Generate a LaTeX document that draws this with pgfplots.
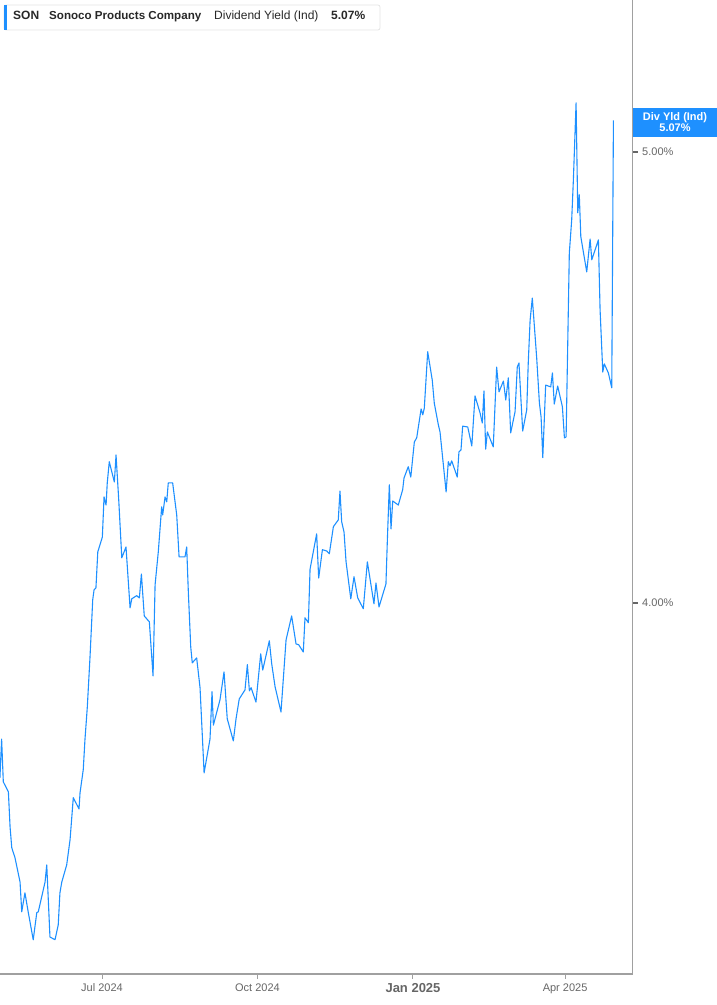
\documentclass[border=0pt]{standalone}
\usepackage{fontspec}
\setmainfont{Liberation Sans}
\usepackage{pgfplots}
\pgfplotsset{compat=1.18}
\usepackage{pgfplotstable}

\definecolor{lineblue}{RGB}{30,144,255}
\definecolor{axisgray}{RGB}{160,160,160}
\definecolor{labelgray}{RGB}{102,102,102}
\definecolor{headtext}{RGB}{40,40,40}

% day = days since 1 Jul 2024, yield in percent
\pgfplotstableread{
day yield
-60.4 3.612
-59.4 3.698
-58.4 3.603
-55.4 3.581
-54.4 3.503
-53.4 3.457
-51.5 3.435
-48.5 3.381
-47.5 3.315
-45.6 3.357
-43.6 3.313
-40.7 3.253
-38.6 3.313
-37.7 3.315
-33.7 3.381
-32.7 3.419
-30.8 3.259
-27.8 3.253
-25.9 3.286
-24.9 3.357
-23.8 3.381
-20.9 3.419
-18.9 3.475
-17.0 3.568
-13.6 3.543
-13.0 3.579
-11.1 3.630
-10.1 3.696
-8.7 3.769
-7.1 3.880
-5.5 4.007
-4.7 4.029
-3.6 4.033
-2.5 4.113
0.2 4.146
1.2 4.235
2.4 4.217
3.1 4.266
4.3 4.313
7.3 4.268
8.3 4.328
9.9 4.228
11.7 4.100
14.2 4.124
16.6 3.989
17.6 4.009
20.5 4.016
22.1 4.011
23.3 4.064
25.0 3.971
28.0 3.958
30.2 3.838
31.4 4.040
33.3 4.113
35.3 4.213
35.9 4.195
37.3 4.235
38.3 4.224
39.2 4.266
41.8 4.266
44.2 4.195
45.6 4.102
49.1 4.102
50.1 4.124
51.1 4.022
52.5 3.902
53.4 3.867
56.0 3.878
58.0 3.812
60.4 3.623
63.9 3.698
65.1 3.803
65.9 3.729
69.8 3.785
72.2 3.847
74.1 3.743
77.7 3.694
79.3 3.743
81.2 3.787
84.6 3.807
86.0 3.863
87.2 3.805
88.2 3.812
91.1 3.780
93.9 3.887
95.1 3.851
99.0 3.916
100.4 3.865
102.4 3.814
105.9 3.758
108.9 3.918
112.2 3.971
114.8 3.909
116.4 3.907
119.1 3.891
120.1 3.967
122.1 3.956
123.1 4.075
127.0 4.153
128.2 4.055
130.4 4.118
133.0 4.115
134.5 4.109
136.9 4.169
139.8 4.184
140.8 4.248
141.8 4.180
143.2 4.157
144.4 4.091
147.2 4.009
149.1 4.058
151.3 4.011
154.6 3.987
157.0 4.091
160.9 3.998
162.1 4.044
163.9 3.991
168.0 4.042
168.8 4.135
170.0 4.262
171.0 4.164
172.0 4.226
175.3 4.217
177.9 4.251
178.7 4.277
181.2 4.302
182.7 4.279
184.8 4.357
186.2 4.366
188.8 4.430
189.8 4.417
190.7 4.432
192.7 4.557
195.4 4.494
196.6 4.443
199.0 4.395
200.0 4.379
203.6 4.246
204.9 4.313
205.9 4.304
206.9 4.315
210.2 4.279
211.2 4.335
212.4 4.339
213.4 4.392
216.4 4.390
218.8 4.348
220.7 4.459
223.7 4.421
225.0 4.399
226.0 4.470
227.0 4.341
228.0 4.379
231.5 4.346
233.5 4.523
234.9 4.468
237.5 4.492
238.9 4.450
240.4 4.499
241.8 4.377
244.4 4.424
245.7 4.523
246.7 4.532
248.9 4.381
251.3 4.428
252.2 4.532
253.3 4.627
254.6 4.676
257.2 4.543
258.8 4.443
259.8 4.412
260.8 4.322
262.5 4.483
265.5 4.479
266.5 4.510
267.6 4.441
269.6 4.481
272.4 4.435
273.6 4.366
274.6 4.368
276.5 4.776
277.9 4.849
278.9 4.938
280.5 5.109
281.5 4.865
282.4 4.905
283.3 4.812
286.8 4.734
288.8 4.807
289.8 4.761
293.7 4.805
294.7 4.650
296.3 4.512
297.2 4.530
299.6 4.510
301.6 4.477
302.6 5.070
}\yielddata

\begin{document}
\begin{tikzpicture}
\path[use as bounding box] (0pt,0pt) rectangle (717pt,1005pt);

\begin{axis}[
    at={(0pt,31pt)}, anchor=south west,
    scale only axis,
    width=632.7pt, height=974pt,
    xmin=-60.36, xmax=314,
    ymin=3.177, ymax=5.337,
    axis x line*=bottom,
    axis y line*=right,
    axis line style={draw=axisgray, line width=1.3pt, -},
    tick align=outside,
    major tick length=5pt,
    tick style={draw=axisgray, line width=1pt},
    ytick style={draw=black!60, line width=1.5pt},
    xtick={0,92,184,274},
    xticklabels={Jul 2024, Oct 2024, {\fontsize{13}{15}\selectfont\bfseries Jan 2025}, Apr 2025},
    ytick={4,5},
    yticklabels={4.00\%, 5.00\%},
    x tick label style={font=\fontsize{11}{13}\selectfont, text=labelgray, anchor=north, yshift=-1pt},
    y tick label style={font=\fontsize{11}{13}\selectfont, text=labelgray, anchor=west, xshift=1pt},
]
\addplot[lineblue, line width=1.1pt, line join=round] table[x=day, y=yield] {\yielddata};
\end{axis}

% header box
\draw[draw=black!10, fill=white, rounded corners=2pt, line width=0.8pt] (4pt,1000pt) rectangle (380pt,975pt);
\fill[lineblue] (4pt,1000pt) rectangle (7pt,975pt);
\begin{scope}[every node/.style={anchor=base west, inner sep=0pt, text=headtext, font=\fontsize{12}{14}\selectfont}]
\node at (13pt,985pt) {\bfseries SON};
\node[font=\fontsize{11.6}{14}\selectfont] at (49pt,985pt) {\bfseries Sonoco Products Company};
\node at (214pt,985pt) {Dividend Yield (Ind)};
\node at (331pt,985pt) {\bfseries 5.07\%};
\end{scope}

% right value label
\fill[lineblue] (632.7pt,897pt) rectangle (717pt,867.7pt);
\node[text=white, font=\fontsize{11}{12}\selectfont\bfseries, align=center, inner sep=0pt] at (675pt,882.5pt) {Div Yld (Ind)\\[-1pt]5.07\%};
\end{tikzpicture}
\end{document}
